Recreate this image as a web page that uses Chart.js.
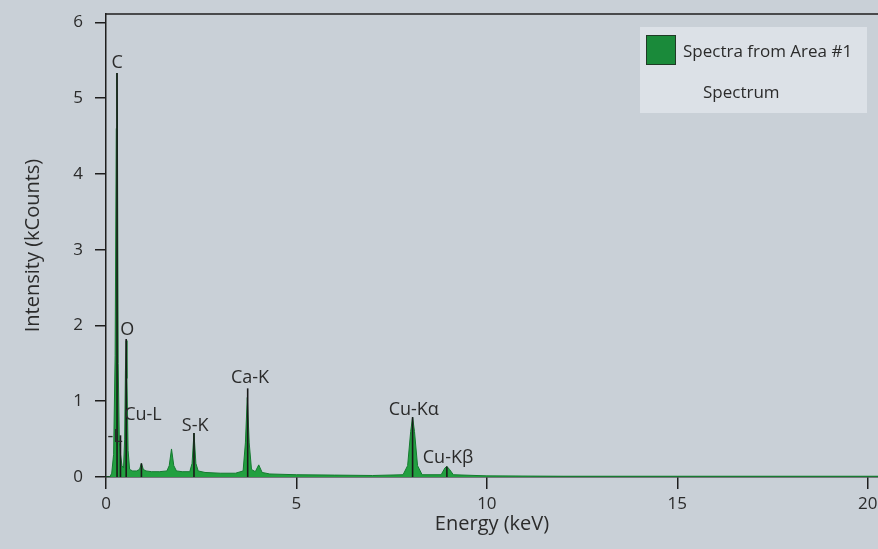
<!DOCTYPE html>
<html>
<head>
<meta charset="utf-8">
<script src="https://cdn.jsdelivr.net/npm/chart.js@4.4.1/dist/chart.umd.min.js"></script>
<style>
  html, body { margin: 0; padding: 0; background: #c9d0d7; }
  #chart { display: block; }
</style>
</head>
<body>
<canvas id="chart" width="878" height="549"></canvas>
<script>
// Spectrum (keV / kCounts)
const energies = [0.00, 0.10, 0.15, 0.20, 0.24, 0.27, 0.285, 0.30, 0.32, 0.35, 0.38, 0.42, 0.46, 0.49, 0.51, 0.53, 0.55, 0.58, 0.62,
  0.70, 0.80, 0.88, 0.93, 0.98, 1.05, 1.20, 1.40, 1.60, 1.66, 1.72, 1.78, 1.85, 2.00, 2.20, 2.26, 2.31, 2.36, 2.42,
  2.60, 3.00, 3.40, 3.60, 3.66, 3.71, 3.76, 3.82, 3.92, 4.01, 4.10, 4.30, 5.00, 6.00, 7.00, 7.80, 7.92, 8.00, 8.05,
  8.10, 8.18, 8.30, 8.80, 8.90, 8.95, 9.02, 9.12, 10.0, 12.0, 15.0, 20.3];
const counts = [0.00, 0.00, 0.05, 0.30, 1.60, 4.60, 5.33, 4.60, 1.50, 0.45, 0.30, 0.15, 0.12, 0.50, 1.40, 1.80, 1.30, 0.35, 0.10,
  0.08, 0.08, 0.10, 0.18, 0.10, 0.08, 0.07, 0.07, 0.08, 0.15, 0.37, 0.15, 0.08, 0.07, 0.07, 0.18, 0.58, 0.18, 0.08,
  0.06, 0.05, 0.05, 0.08, 0.45, 1.05, 0.45, 0.10, 0.07, 0.16, 0.06, 0.04, 0.03, 0.025, 0.02, 0.03, 0.15, 0.60, 0.79,
  0.60, 0.15, 0.03, 0.03, 0.12, 0.14, 0.10, 0.03, 0.015, 0.01, 0.01, 0.01];

// Peak labels: leader line position/top, text centre and baseline
const peakNames = ['C', 'Ca-L', 'O', 'Cu-L', 'S-K', 'Ca-K', 'Cu-Kα', 'Cu-Kβ'];
const peakEnergies = [0.29, 0.38, 0.53, 0.93, 2.31, 3.72, 8.05, 8.95];
const peakTops = [5.33, 0.55, 1.82, 0.18, 0.58, 1.17, 0.79, 0.14];
const labelEnergies = [0.29, -0.04, 0.56, 0.97, 2.34, 3.78, 8.08, 8.98];
const labelBottoms = [5.40, 0.46, 1.87, 0.75, 0.61, 1.24, 0.82, 0.19];

const xTicks = [0, 5, 10, 15, 20];
const yTicks = [0, 1, 2, 3, 4, 5, 6];

const BG = '#c9d0d7';
const AXIS = '#1e1e1e';
const TEXT = '#2b2b2b';
const FONT = "'Open Sans', 'DejaVu Sans', sans-serif";

const bgPlugin = {
  id: 'bg',
  beforeDraw(chart) {
    const ctx = chart.ctx;
    ctx.save();
    ctx.fillStyle = BG;
    ctx.fillRect(0, 0, chart.width, chart.height);
    ctx.restore();
  }
};

// Leader lines, peak names and the top frame line
const peakPlugin = {
  id: 'peaks',
  afterDatasetsDraw(chart) {
    const {ctx, chartArea, scales: {x, y}} = chart;
    ctx.save();
    ctx.strokeStyle = AXIS;
    ctx.lineWidth = 1.5;
    ctx.beginPath();
    ctx.moveTo(chartArea.left, chartArea.top);
    ctx.lineTo(chartArea.right, chartArea.top);
    ctx.stroke();

    ctx.beginPath();
    ctx.rect(chartArea.left + 1, chartArea.top, chartArea.right - chartArea.left, chartArea.bottom - chartArea.top);
    ctx.clip();
    ctx.strokeStyle = '#1a1a1a';
    ctx.lineWidth = 1.6;
    peakNames.forEach((name, i) => {
      const px = x.getPixelForValue(peakEnergies[i]);
      ctx.beginPath();
      ctx.moveTo(px, y.getPixelForValue(0));
      ctx.lineTo(px, y.getPixelForValue(peakTops[i]));
      ctx.stroke();
    });
    ctx.fillStyle = TEXT;
    ctx.font = '18px ' + FONT;
    ctx.textAlign = 'center';
    ctx.textBaseline = 'alphabetic';
    peakNames.forEach((name, i) => {
      ctx.fillText(name, x.getPixelForValue(labelEnergies[i]), y.getPixelForValue(labelBottoms[i]));
    });
    ctx.restore();
  }
};

// Legend box in the top right corner
const legendPlugin = {
  id: 'legendBox',
  afterDraw(chart) {
    const ctx = chart.ctx;
    const ds = chart.data.datasets[0];
    ctx.save();
    ctx.fillStyle = '#dce1e7';
    ctx.fillRect(640, 27, 227, 86);
    ctx.fillStyle = '#1a8a3a';
    ctx.fillRect(646, 35, 30, 30);
    ctx.strokeStyle = '#1f3a26';
    ctx.lineWidth = 1;
    ctx.strokeRect(646.5, 35.5, 29, 29);
    ctx.fillStyle = TEXT;
    ctx.font = '17px ' + FONT;
    ctx.textAlign = 'left';
    ctx.textBaseline = 'middle';
    ctx.fillText(ds.label, 683, 52);
    ctx.fillText('Spectrum', 703, 93);
    ctx.restore();
  }
};

new Chart(document.getElementById('chart'), {
  type: 'line',
  data: {
    datasets: [{
      label: 'Spectra from Area #1',
      data: energies.map((e, i) => ({x: e, y: counts[i]})),
      borderColor: '#157a30',
      borderWidth: 1,
      backgroundColor: '#22a040',
      fill: 'origin',
      pointRadius: 0,
      tension: 0
    }]
  },
  options: {
    responsive: false,
    devicePixelRatio: 1,
    animation: false,
    layout: { padding: { top: 14, right: 0, left: 0, bottom: 0 }, autoPadding: false },
    plugins: { legend: { display: false }, tooltip: { enabled: false } },
    scales: {
      x: {
        type: 'linear',
        min: 0,
        max: 20.27,
        afterFit: s => { s.height = 72; s.paddingLeft = 0; s.paddingRight = 0; },
        afterBuildTicks: s => { s.ticks = xTicks.map(v => ({value: v})); },
        border: { display: true, color: AXIS, width: 1.5 },
        grid: { drawOnChartArea: false, drawTicks: true, tickLength: 12, color: AXIS, lineWidth: 1.5 },
        ticks: { color: TEXT, font: { size: 17, family: FONT }, padding: 5, maxRotation: 0 },
        title: { display: true, text: 'Energy (keV)', color: TEXT, font: { size: 20, family: FONT }, padding: { bottom: 13 } }
      },
      y: {
        min: 0,
        max: 6.11,
        afterFit: s => { s.width = 106; s.paddingTop = 0; s.paddingBottom = 0; },
        afterBuildTicks: s => { s.ticks = yTicks.map(v => ({value: v})); },
        border: { display: true, color: AXIS, width: 1.5 },
        grid: { drawOnChartArea: false, drawTicks: true, tickLength: 11, color: AXIS, lineWidth: 1.5 },
        ticks: { color: TEXT, font: { size: 17, family: FONT }, padding: 12 },
        title: { display: true, text: 'Intensity (kCounts)', color: TEXT, font: { size: 20, family: FONT }, padding: { top: 21 } }
      }
    }
  },
  plugins: [bgPlugin, peakPlugin, legendPlugin]
});
</script>
</body>
</html>
